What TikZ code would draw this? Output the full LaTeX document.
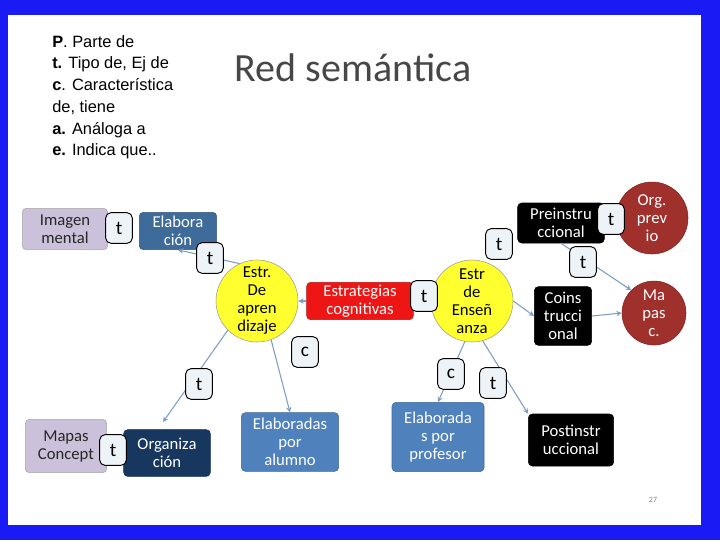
\documentclass[tikz,border=0pt]{standalone}
\usepackage{fontspec}
\setmainfont{Carlito}
\newfontfamily\arialf{Liberation Sans}
\usetikzlibrary{arrows.meta}
\definecolor{frameblue}{HTML}{1A1AF5}
\definecolor{lav}{HTML}{CCC1DA}
\definecolor{steel}{HTML}{3E6B99}
\definecolor{midblue}{HTML}{4F81BD}
\definecolor{navy}{HTML}{17375E}
\definecolor{dred}{HTML}{A0302C}
\definecolor{yel}{HTML}{FFFF30}
\definecolor{rred}{HTML}{EE1515}
\definecolor{arr}{HTML}{7F9FC2}
\definecolor{lbl}{HTML}{EEF3F8}
\tikzset{
 box/.style={rounded corners=3pt,align=center,inner sep=1pt,font=\fontsize{12.5}{13.5}\selectfont},
 lavbox/.style={box,fill=lav,draw=gray!70,text=black!85},
 darkbox/.style={box,fill=#1,draw=#1!80!black,text=white},
 circ/.style={circle,align=center,inner sep=0pt,font=\fontsize{12.5}{13.5}\selectfont},
 ycirc/.style={circ,fill=yel,draw=gray!80,minimum size=61.5pt,text=black},
 rcirc/.style={circ,fill=dred,draw=dred!80!black,text=white},
 tl/.style={rounded corners=4pt,fill=lbl,draw=black,line width=0.7pt,minimum width=20pt,minimum height=23pt,inner sep=0pt,font=\fontsize{14.5}{14.5}\selectfont},
 conn/.style={draw=arr,line width=0.8pt,-{Stealth[length=4pt,width=4pt]}}
}
\begin{document}
\begin{tikzpicture}[x=0.75pt,y=-0.75pt]
\fill[frameblue] (0,0) rectangle (720,540);
\fill[white] (8,15) rectangle (701,525);
\node[anchor=north west,align=left,font=\arialf\fontsize{12.3}{16.3}\selectfont,inner sep=0pt] (txt) at (52,35)
 {\textbf{P}. Parte de\\ \textbf{t.} Tipo de, Ej de\\ \textbf{c}. Característica\\ de, tiene\\ \textbf{a.} Análoga a\\ \textbf{e.} Indica que..};
\node[font=\fontsize{30}{30}\selectfont,text=black!72] (title) at (353,68) {Red semántica};
\node[font=\fontsize{6}{6}\selectfont,text=gray] (pg) at (653,500) {27};
% nodes
\node[lavbox,minimum width=64pt,minimum height=31pt] (img) at (65,229) {Imagen\\mental};
\node[darkbox=steel,minimum width=58pt,minimum height=28pt] (elab) at (178,231) {Elabora\\ción};
\node[ycirc] (ea) at (257,301) {Estr.\\De\\apren\\dizaje};
\node[darkbox=rred,minimum width=80pt,minimum height=28pt] (ec) at (360,301) {Estrategias\\cognitivas};
\node[ycirc] (ee) at (472,301) {Estr\\de\\Enseñ\\anza};
\node[darkbox=black,minimum width=65pt,minimum height=30pt] (pre) at (561,223) {Preinstru\\ccional};
\node[rcirc,minimum size=54pt] (org) at (652,218) {Org.\\prev\\io};
\node[darkbox=black,minimum width=43pt,minimum height=44pt] (coin) at (563,316) {Coins\\trucci\\onal};
\node[rcirc,minimum size=48pt] (map) at (654,313) {Ma\\pas\\c.};
\node[darkbox=black,minimum width=64pt,minimum height=39pt] (post) at (571,440) {Postinstr\\uccional};
\node[darkbox=midblue,minimum width=69pt,minimum height=52pt] (prof) at (438,437) {Elaborada\\s por\\profesor};
\node[darkbox=midblue,minimum width=73pt,minimum height=44pt] (alu) at (290,442) {Elaboradas\\por\\alumno};
\node[lavbox,minimum width=61pt,minimum height=40pt] (mc) at (66,446) {Mapas\\Concept};
\node[darkbox=navy,minimum width=65pt,minimum height=35pt] (orgz) at (167,453) {Organiza\\ción};
% connectors
\draw[conn] (ea.115) -- (elab.south);
\draw[conn] (ea.225) -- (163,422);
\draw[conn] (ea.290) -- (alu.north);
\draw[conn] (ec.west) -- (ea.east);
\draw[conn] (ee.east) -- (coin.west);
\draw[conn] (coin.east) -- (map.west);
\draw[conn] (pre.south) -- (map.north west);
\draw[conn] (ee.260) -- (prof.north);
\draw[conn] (ee.285) -- (post.north west);
% labels
\node[tl] (t1) at (119,228) {t};
\node[tl] (t2) at (210,258) {t};
\node[tl] (c1) at (305,352) {c};
\node[tl] (t3) at (199,384) {t};
\node[tl] (t4) at (113,450) {t};
\node[tl] (t5) at (424,296) {t};
\node[tl] (t6) at (499,244) {t};
\node[tl] (t7) at (583,262) {t};
\node[tl] (t8) at (611,219) {t};
\node[tl] (c2) at (451,374) {c};
\node[tl] (t9) at (493,383) {t};
\end{tikzpicture}
\end{document}
